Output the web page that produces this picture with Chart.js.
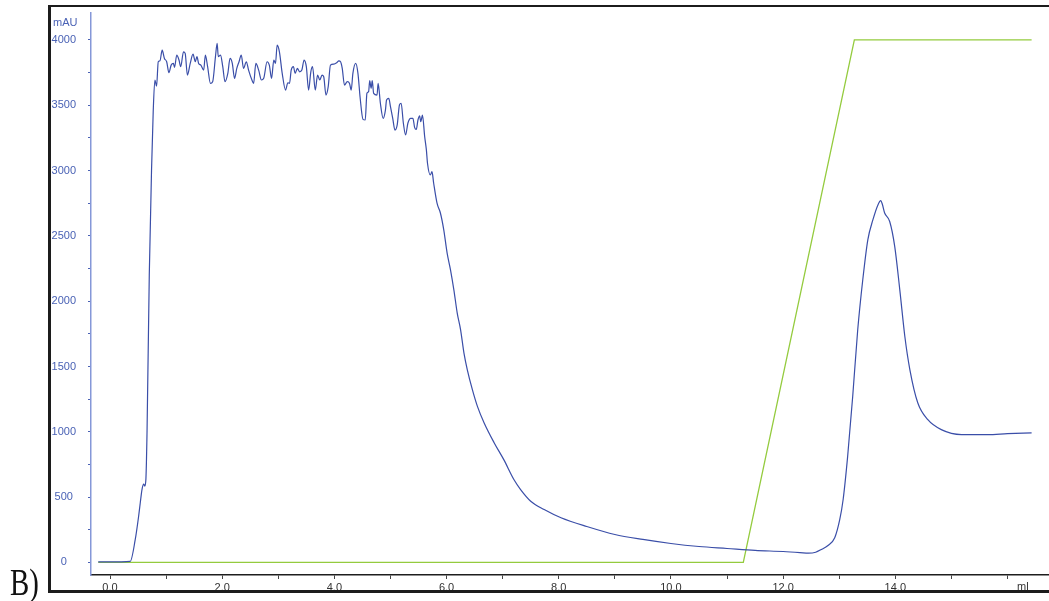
<!DOCTYPE html>
<html>
<head>
<meta charset="utf-8">
<script src="https://cdn.jsdelivr.net/npm/chart.js@4.4.1/dist/chart.umd.min.js"></script>
<style>
  html, body { margin:0; padding:0; background:#fff; }
  #wrap { position:relative; width:1049px; height:601px; overflow:hidden; background:#fff; }
  #c { position:absolute; left:0; top:0; }
  .frame { position:absolute; left:48px; top:5px; width:1100px; height:588px; box-sizing:border-box;
           border-left:3px solid #1c1c1c; border-top:2px solid #1c1c1c; border-bottom:3px solid #1c1c1c; pointer-events:none; }
  .lbl { position:absolute; font-family:"Liberation Sans", Arial, sans-serif; font-size:11px; white-space:nowrap; }
  #mau { left:53px; top:16px; color:#4a62b5; }
  #ml { left:1017px; top:580px; color:#333; }
  #panel { position:absolute; left:10px; top:564px; font-family:"Liberation Serif", "Times New Roman", serif;
           font-size:37px; line-height:37px; color:#111; transform:scaleX(0.78); transform-origin:left top; }
</style>
</head>
<body>
<div id="wrap">
  <canvas id="c" width="1049" height="601"></canvas>
  <div class="frame"></div>
  <div class="lbl" id="mau">mAU</div>
  <div class="lbl" id="ml">ml</div>
  <div id="panel">B)</div>
</div>
<script>
// ---- data (volume in ml, absorbance in mAU) ----
const uvVolume = [-0.21,0.0,0.2,0.36,0.45,0.51,0.54,0.57,0.60,0.62,0.64,0.66,0.70,0.74,0.77,0.80,0.83,0.86,0.89,0.93,0.97,1.01,1.05,1.09,1.13,1.15,1.19,1.23,1.26,1.31,1.34,1.38,1.43,1.48,1.52,1.55,1.58,1.62,1.67,1.70,1.74,1.79,1.83,1.88,1.91,1.93,1.97,2.01,2.05,2.10,2.14,2.18,2.22,2.26,2.30,2.34,2.38,2.43,2.47,2.53,2.56,2.60,2.65,2.70,2.74,2.80,2.84,2.88,2.92,2.95,2.98,3.02,3.07,3.13,3.17,3.20,3.23,3.27,3.30,3.34,3.38,3.42,3.46,3.50,3.54,3.58,3.61,3.66,3.70,3.74,3.78,3.81,3.85,3.89,3.93,3.99,4.04,4.08,4.11,4.14,4.18,4.23,4.27,4.30,4.33,4.38,4.42,4.46,4.51,4.55,4.58,4.61,4.63,4.655,4.675,4.70,4.76,4.78,4.82,4.87,4.91,4.93,4.97,5.00,5.04,5.08,5.12,5.16,5.19,5.23,5.27,5.31,5.36,5.40,5.43,5.46,5.49,5.52,5.54,5.57,5.61,5.64,5.66,5.71,5.74,5.77,5.83,5.89,5.95,6.01,6.07,6.13,6.19,6.25,6.31,6.37,6.46,6.55,6.67,6.85,7.02,7.20,7.32,7.50,7.74,8.04,8.50,9.00,9.50,10.0,10.5,11.0,11.5,12.0,12.3,12.45,12.58,12.68,12.80,12.92,13.01,13.07,13.15,13.24,13.33,13.42,13.51,13.60,13.69,13.74,13.77,13.81,13.90,13.99,14.08,14.17,14.26,14.40,14.58,14.82,15.18,15.65,16.0,16.43];
const uvAbs = [5,5,5,8,176,354,459,558,600,585,640,1000,2200,3000,3450,3693,3647,3833,3840,3922,3858,3833,3749,3807,3820,3790,3884,3846,3795,3909,3897,3731,3820,3891,3833,3872,3820,3807,3769,3884,3795,3667,3680,3872,3973,3872,3884,3795,3680,3744,3858,3820,3706,3782,3833,3884,3782,3833,3769,3693,3667,3820,3769,3693,3706,3833,3807,3706,3846,3820,3960,3909,3744,3616,3672,3667,3769,3795,3744,3782,3756,3769,3846,3795,3616,3756,3795,3616,3731,3693,3731,3718,3578,3642,3807,3815,3825,3840,3833,3782,3654,3680,3667,3616,3744,3820,3744,3553,3392,3387,3591,3604,3688,3629,3688,3591,3578,3667,3515,3400,3463,3540,3553,3489,3400,3310,3349,3502,3515,3362,3272,3362,3400,3400,3331,3315,3387,3418,3374,3425,3259,3158,3056,2966,2991,2903,2750,2675,2546,2368,2240,2087,1909,1781,1603,1475,1323,1195,1068,915,787,635,558,469,405,342,275,214,176,145,122,107,92,84,76,71,78,99,130,189,329,482,810,1269,1781,2164,2470,2622,2737,2770,2740,2675,2610,2418,2087,1730,1475,1223,1093,1017,979,979,986,992];
const gradVolume = [-0.21, 11.29, 13.27, 16.43];
const gradValue = [0, 0, 4000, 4000];
const xTickValues = [0,1,2,3,4,5,6,7,8,9,10,11,12,13,14,15,16];
const xTickLabels = ['0.0','','2.0','','4.0','','6.0','','8.0','','10.0','','12.0','','14.0','',''];
const yTickValues = [0,250,500,750,1000,1250,1500,1750,2000,2250,2500,2750,3000,3250,3500,3750,4000];
const yTickLabels = ['0','','500','','1000','','1500','','2000','','2500','','3000','','3500','','4000'];

const uvPoints = uvVolume.map((v, i) => ({ x: v, y: uvAbs[i] }));
const gradPoints = gradVolume.map((v, i) => ({ x: v, y: gradValue[i] }));

const font = { family: '"Liberation Sans", Arial, sans-serif', size: 11 };

new Chart(document.getElementById('c'), {
  type: 'line',
  data: {
    datasets: [
      { label: 'UV', data: uvPoints, borderColor: '#3a4ea8', borderWidth: 1.2, pointRadius: 0,
        cubicInterpolationMode: 'monotone', fill: false, order: 0 },
      { label: 'Gradient', data: gradPoints, borderColor: '#94cb3e', borderWidth: 1.3, pointRadius: 0,
        tension: 0, fill: false, order: 1 }
    ]
  },
  options: {
    responsive: false,
    animation: false,
    events: [],
    layout: { padding: { top: 13, left: 0, right: 0, bottom: 0 } },
    plugins: { legend: { display: false }, tooltip: { enabled: false }, title: { display: false } },
    scales: {
      x: {
        type: 'linear', min: -0.339, max: 16.74,
        afterBuildTicks: s => { s.ticks = xTickValues.map(v => ({ value: v })); },
        afterFit: s => { s.height = 26; s.paddingLeft = 0; s.paddingRight = 0; },
        grid: { drawOnChartArea: false, drawTicks: true, tickLength: 4, color: '#444' },
        border: { display: true, color: '#1e1e1e', width: 1.5 },
        ticks: { autoSkip: false, maxRotation: 0, padding: 2, color: '#333', font,
                 callback: (val) => xTickLabels[xTickValues.indexOf(val)] ?? '' }
      },
      y: {
        type: 'linear', min: -96, max: 4206,
        afterBuildTicks: s => { s.ticks = yTickValues.map(v => ({ value: v })); },
        afterFit: s => { s.width = 91; s.paddingTop = 0; s.paddingBottom = 0; },
        grid: { drawOnChartArea: false, drawTicks: true, tickLength: 3, color: '#4a62b5' },
        border: { display: true, color: '#8597d8', width: 1.5 },
        ticks: { autoSkip: false, padding: 12, crossAlign: 'center', color: '#4a62b5', font,
                 callback: (val) => yTickLabels[yTickValues.indexOf(val)] ?? '' }
      }
    }
  }
});
</script>
</body>
</html>
